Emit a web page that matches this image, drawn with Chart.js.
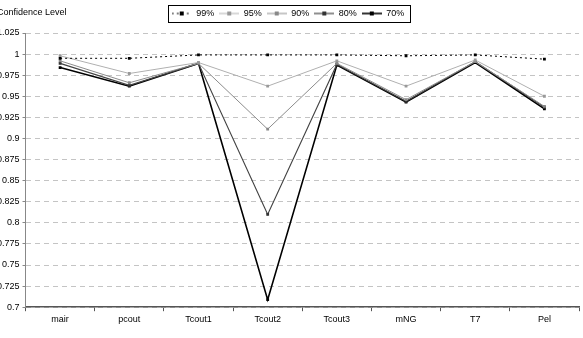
<!DOCTYPE html>
<html>
<head>
<meta charset="utf-8">
<script src="https://cdn.jsdelivr.net/npm/chart.js@4/dist/chart.umd.min.js"></script>
<style>
  html, body { margin: 0; padding: 0; background: #fff; }
  #wrap { width: 583px; height: 338px; position: relative; }
</style>
</head>
<body>
<div id="wrap"><canvas id="grafico"></canvas></div>
<script>
const categorias = ['mair', 'pcout', 'Tcout1', 'Tcout2', 'Tcout3', 'mNG', 'T7', 'Pel'];
const nivel99 = [0.995, 0.995, 0.999, 0.999, 0.999, 0.998, 0.999, 0.994];
const nivel95 = [0.998, 0.977, 0.990, 0.962, 0.992, 0.962, 0.993, 0.950];
const nivel90 = [0.992, 0.966, 0.989, 0.911, 0.989, 0.946, 0.991, 0.938];
const nivel80 = [0.989, 0.963, 0.989, 0.810, 0.988, 0.944, 0.991, 0.937];
const nivel70 = [0.984, 0.962, 0.989, 0.709, 0.987, 0.943, 0.990, 0.935];
const etiquetas = ['99%', '95%', '90%', '80%', '70%'];

// little legend sample: line with a square marker in the middle
function muestra(color, dash, marca, ancho) {
  const c = document.createElement('canvas');
  c.width = 20; c.height = 8;
  const g = c.getContext('2d');
  g.strokeStyle = color;
  g.lineWidth = ancho;
  g.setLineDash(dash);
  g.beginPath(); g.moveTo(0, 4); g.lineTo(20, 4); g.stroke();
  g.fillStyle = marca;
  g.fillRect(8, 2, 4, 4);
  return c;
}

const estilos = [
  { color: '#000', dash: [2, 3], marca: '#000', ancho: 1 },
  { color: '#b0b0b0', dash: [], marca: '#999', ancho: 1 },
  { color: '#8c8c8c', dash: [], marca: '#888', ancho: 1 },
  { color: '#444', dash: [], marca: '#333', ancho: 1.2 },
  { color: '#000', dash: [], marca: '#000', ancho: 1.6 }
];
const series = [nivel99, nivel95, nivel90, nivel80, nivel70];

const marcoLeyenda = {
  id: 'marcoLeyenda',
  beforeInit(chart) {
    const l = chart.legend;
    if (l) {
      const fit = l.fit;
      l.fit = function () { fit.call(this); this.height += 5; };
    }
  },
  afterDraw(chart) {
    const l = chart.legend, ctx = chart.ctx;
    const cajas = l.legendHitBoxes;
    ctx.save();
    if (cajas && cajas.length) {
      const izq = Math.min(...cajas.map(b => b.left)) - 4;
      const der = Math.max(...cajas.map(b => b.left + b.width)) + 5;
      const arr = Math.min(...cajas.map(b => b.top)) - 4;
      const abj = Math.max(...cajas.map(b => b.top + b.height)) + 4;
      ctx.strokeStyle = '#000';
      ctx.lineWidth = 1;
      ctx.strokeRect(Math.round(izq) + 0.5, Math.round(arr) + 0.5, Math.round(der - izq), Math.round(abj - arr));
    }
    ctx.fillStyle = '#000';
    ctx.font = '9px "Liberation Sans", Arial, sans-serif';
    ctx.textBaseline = 'middle';
    ctx.fillText('Confidence Level', -3, 13);
    ctx.restore();
  }
};

const ctx = document.getElementById('grafico').getContext('2d');
new Chart(ctx, {
  type: 'line',
  data: {
    labels: categorias,
    datasets: series.map((d, i) => ({
      label: etiquetas[i],
      data: d,
      borderColor: estilos[i].color,
      borderWidth: estilos[i].ancho,
      borderDash: estilos[i].dash,
      pointStyle: 'rect',
      pointRadius: 2,
      pointBackgroundColor: estilos[i].marca,
      pointBorderColor: estilos[i].marca,
      pointBorderWidth: 0,
      tension: 0,
      fill: false
    }))
  },
  options: {
    responsive: true,
    maintainAspectRatio: false,
    animation: false,
    layout: { padding: { left: -6, right: 1, top: 4, bottom: 10 } },
    font: { family: '"Liberation Sans", Arial, sans-serif', size: 9 },
    plugins: {
      legend: {
        display: true,
        position: 'top',
        labels: {
          color: '#000',
          font: { family: '"Liberation Sans", Arial, sans-serif', size: 9 },
          usePointStyle: true,
          pointStyleWidth: 20,
          padding: 5,
          generateLabels: chart => chart.data.datasets.map((ds, i) => ({
            text: ds.label,
            pointStyle: muestra(estilos[i].color, estilos[i].dash, estilos[i].marca, estilos[i].ancho),
            fillStyle: 'transparent',
            strokeStyle: 'transparent',
            lineWidth: 0,
            datasetIndex: i
          }))
        }
      },
      tooltip: { enabled: false }
    },
    scales: {
      x: {
        offset: true,
        grid: {
          offset: true,
          drawOnChartArea: false,
          drawTicks: true,
          tickLength: 4,
          tickColor: '#555'
        },
        border: { color: '#555', width: 1.5 },
        ticks: {
          color: '#000',
          padding: 3,
          font: { family: '"Liberation Sans", Arial, sans-serif', size: 9 }
        }
      },
      y: {
        min: 0.7,
        max: 1.025,
        grid: {
          color: '#c4c4c4',
          tickColor: '#888',
          tickLength: 3,
          tickBorderDash: []
        },
        border: { color: '#888', width: 1, dash: [5, 4] },
        ticks: {
          stepSize: 0.025,
          color: '#000',
          padding: 3,
          font: { family: '"Liberation Sans", Arial, sans-serif', size: 9 },
          callback: v => String(+v.toFixed(3))
        }
      }
    }
  },
  plugins: [marcoLeyenda]
});
</script>
</body>
</html>
